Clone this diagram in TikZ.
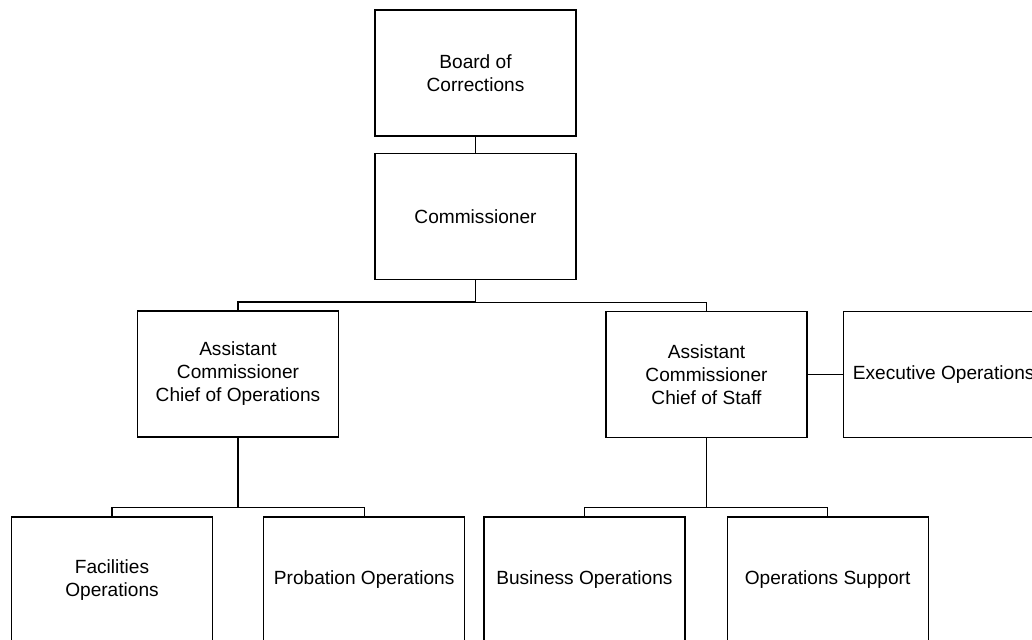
\documentclass[tikz,border=0pt]{standalone}
\usepackage{fontspec}
\setmainfont{Liberation Sans}
\usetikzlibrary{positioning}

\begin{document}
\begin{tikzpicture}[x=0.5pt, y=0.5pt,
    unit/.style={draw, line width=0.6pt, minimum width=100.5pt,
      minimum height=63pt, inner sep=2pt, align=center,
      font=\fontsize{9.55}{11.5}\selectfont},
    link/.style={line width=0.6pt},
    trunk/.style={line width=0.95pt}]
      \useasboundingbox (0,0) rectangle (1032,639);
      \clip (0,0) rectangle (1032,639);
      \node[unit] (board) at (475.5,566) {Board of\\Corrections};
      \node[unit, below=8pt of board] (comm) {Commissioner};
      \node[unit] (aops) at (238,265) {Assistant\\Commissioner\\Chief of Operations};
      \node[unit] (astaff) at (706.5,264.5) {Assistant\\Commissioner\\Chief of Staff};
      \node[unit, right=17.5pt of astaff] (exec) {Executive Operations};
      \node[unit] (fac) at (112,59) {Facilities\\Operations};
      \node[unit, right=25pt of fac] (prob) {Probation Operations};
      \node[unit, right=9pt of prob] (bus) {Business Operations};
      \node[unit, right=20.5pt of bus] (sup) {Operations Support};
      % join points of the branches
      \coordinate[above=4pt of aops.north] (opsjoin);
      \coordinate[above=4.5pt of fac.north] (facjoin);
      \coordinate[above=4.5pt of bus.north] (busjoin);
      \draw[link] (board.south) -- (comm.north);
      \draw[trunk] (comm.south) -- (comm.south |- opsjoin);
      \draw[trunk] (aops.north) -- (opsjoin) -- (comm.south |- opsjoin);
      \draw[link] (comm.south |- opsjoin) -| (astaff.north);
      \draw[link] (astaff.east) -- (exec.west);
      \draw[trunk] (aops.south) -- (aops.south |- facjoin);
      \draw[link] (fac.north) -- (facjoin) -| (prob.north);
      \draw[link] (astaff.south) -- (astaff.south |- busjoin);
      \draw[link] (bus.north) -- (busjoin) -| (sup.north);
    \end{tikzpicture}
\end{document}
